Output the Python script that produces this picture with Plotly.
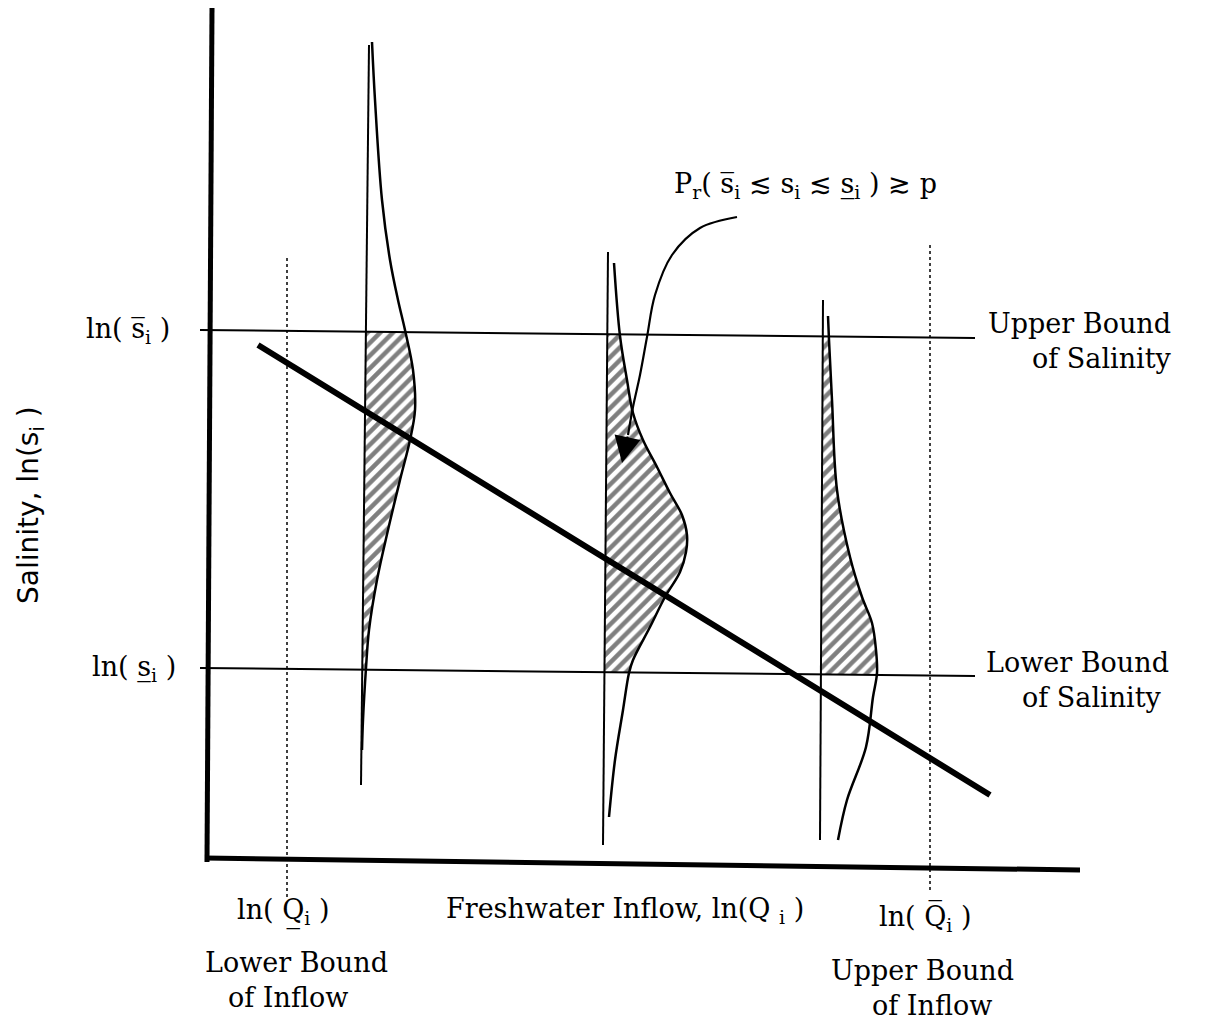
import numpy as np
import plotly.graph_objects as go

# ---------------- schematic data (abstract ln-units, origin at axes corner) ----------------
y_axis_x = [0.4, -0.1]
y_axis_y = [85.2, -0.2]
x_axis_x = [-0.3, 87.2]
x_axis_y = [0.2, -1.0]

upper_bound_x = [-0.8, 76.7]
upper_bound_y = [53.0, 52.2]
lower_bound_x = [-0.8, 76.7]
lower_bound_y = [19.2, 18.4]

q_lower_x = [7.9, 7.9]
q_lower_y = [60.2, -4.0]
q_upper_x = [72.2, 72.2]
q_upper_y = [61.5, -3.0]

regression_x = [5.0, 78.2]
regression_y = [51.5, 6.5]

# salinity distributions at three inflows
left_base_x = [16.1, 15.3]
left_base_y = [81.5, 7.5]
left_curve_x = [16.4, 16.7, 17.4, 18.2, 19.0, 19.7, 20.5, 20.7, 20.2, 19.2, 18.0, 16.9, 16.1, 15.8, 15.5, 15.4]
left_curve_y = [81.8, 76.0, 66.0, 60.0, 56.0, 53.0, 49.0, 45.0, 42.0, 38.0, 33.0, 28.0, 23.0, 19.2, 14.0, 11.0]

mid_base_x = [40.0, 39.5]
mid_base_y = [60.8, 1.5]
mid_curve_x = [40.6, 41.2, 41.9, 42.5, 43.5, 44.9, 46.2, 47.4, 47.9, 47.8, 47.2, 45.7, 44.2, 42.5, 42.1, 41.5, 40.7, 40.1]
mid_curve_y = [59.7, 52.4, 48.0, 44.7, 42.0, 39.3, 36.7, 34.5, 32.5, 30.8, 28.8, 26.3, 23.3, 20.0, 18.7, 15.0, 10.0, 4.3]

right_base_x = [61.5, 61.2]
right_base_y = [56.0, 2.0]
right_curve_x = [62.0, 62.1, 62.4, 62.9, 64.2, 65.4, 66.4, 66.8, 66.9, 66.5, 65.8, 63.9, 63.0]
right_curve_y = [54.4, 52.0, 46.0, 37.0, 30.3, 26.3, 23.7, 21.0, 18.7, 16.3, 11.3, 6.0, 2.0]

# pointer arrow
arrow_x = [52.9, 49.2, 46.4, 44.7, 43.9, 43.2, 42.5, 42.0]
arrow_y = [64.3, 63.2, 60.5, 56.5, 52.3, 48.5, 45.3, 42.5]
arrow_tip = (41.4, 39.7)

FONT = "DejaVu Serif"
FS = 27

fig = go.Figure()


def line(x, y, width, dash="solid", shape="linear"):
    fig.add_trace(go.Scatter(x=x, y=y, mode="lines", hoverinfo="skip",
                             line=dict(color="black", width=width, dash=dash, shape=shape)))


def shade(bx, by, cx, cy):
    bx = np.array(bx); by = np.array(by); cx = np.array(cx); cy = np.array(cy)
    x0 = bx.mean()
    yu = np.interp(x0, upper_bound_x, upper_bound_y)
    yl = np.interp(x0, lower_bound_x, lower_bound_y)
    bxu = np.interp(yu, by[::-1], bx[::-1])
    bxl = np.interp(yl, by[::-1], bx[::-1])
    cxu = np.interp(yu, cy[::-1], cx[::-1])
    cxl = np.interp(yl, cy[::-1], cx[::-1])
    sel = (cy < yu - 0.5) & (cy > yl + 0.5)
    sx = [cxu] + list(cx[sel]) + [cxl]
    sy = [yu] + list(cy[sel]) + [yl]
    fig.add_trace(go.Scatter(x=[bxu, bxl], y=[yu, yl], mode="lines", hoverinfo="skip",
                             line=dict(width=0, color="rgba(0,0,0,0)")))
    fig.add_trace(go.Scatter(x=sx, y=sy, mode="lines", hoverinfo="skip", fill="tonextx",
                             line=dict(width=0, color="rgba(0,0,0,0)", shape="spline"),
                             fillcolor="white",
                             fillpattern=dict(shape="/", size=9, solidity=0.5,
                                              fgcolor="black", bgcolor="white")))


for bx, by, cx, cy in [(left_base_x, left_base_y, left_curve_x, left_curve_y),
                       (mid_base_x, mid_base_y, mid_curve_x, mid_curve_y),
                       (right_base_x, right_base_y, right_curve_x, right_curve_y)]:
    shade(bx, by, cx, cy)
    line(bx, by, 2)
    line(cx, cy, 2.5, shape="spline")

line(upper_bound_x, upper_bound_y, 2)
line(lower_bound_x, lower_bound_y, 2)
line(q_lower_x, q_lower_y, 1.5, dash="dot")
line(q_upper_x, q_upper_y, 1.5, dash="dot")
line(regression_x, regression_y, 6)
line(y_axis_x, y_axis_y, 5)
line(x_axis_x, x_axis_y, 5)
line(arrow_x, arrow_y, 2.2, shape="spline")

ann = []


def text(x, y, s, size=FS, family=FONT, angle=0):
    ann.append(dict(x=x, y=y, xref="x", yref="y", text=s, showarrow=False,
                    xanchor="center", yanchor="middle", textangle=angle,
                    font=dict(family=family, size=size, color="black")))


text(-8.0, 53.0, "ln( s\u0305<sub>i</sub> )")
text(-7.4, 19.2, "ln( s\u0332<sub>i</sub> )")
text(-17.8, 35.5, "Salinity, ln(s<sub>i</sub> )", size=28, family="DejaVu Sans", angle=-90)
text(87.1, 53.7, "Upper Bound")
text(89.4, 50.2, "of Salinity")
text(86.9, 19.8, "Lower Bound")
text(88.4, 16.3, "of Salinity")
text(7.5, -5.2, "ln( Q\u0332<sub>i</sub> )")
text(8.8, -10.2, "Lower Bound")
text(8.0, -13.7, "of Inflow")
text(41.7, -5.0, "Freshwater Inflow, ln(Q <sub>i</sub> )")
text(71.7, -5.8, "ln( Q\u0305<sub>i</sub> )")
text(71.4, -11.0, "Upper Bound")
text(72.4, -14.5, "of Inflow")
text(59.7, 67.5, "P<sub>r</sub>( s\u0305<sub>i</sub> \u2272 s<sub>i</sub> \u2272 s\u0332<sub>i</sub> ) \u2273 p")

ann.append(dict(x=arrow_tip[0], y=arrow_tip[1], ax=arrow_x[-1], ay=arrow_y[-1],
                xref="x", yref="y", axref="x", ayref="y", text="", showarrow=True,
                arrowhead=2, arrowsize=2.4, arrowwidth=2.2, arrowcolor="black"))

fig.update_layout(
    width=1211, height=1023,
    margin=dict(l=0, r=0, t=0, b=0),
    paper_bgcolor="white", plot_bgcolor="white",
    showlegend=False,
    xaxis=dict(range=[-20.8, 100.3], visible=False, fixedrange=True),
    yaxis=dict(range=[-16.3, 86.0], visible=False, fixedrange=True),
    annotations=ann,
)

fig.write_html("out.html")
